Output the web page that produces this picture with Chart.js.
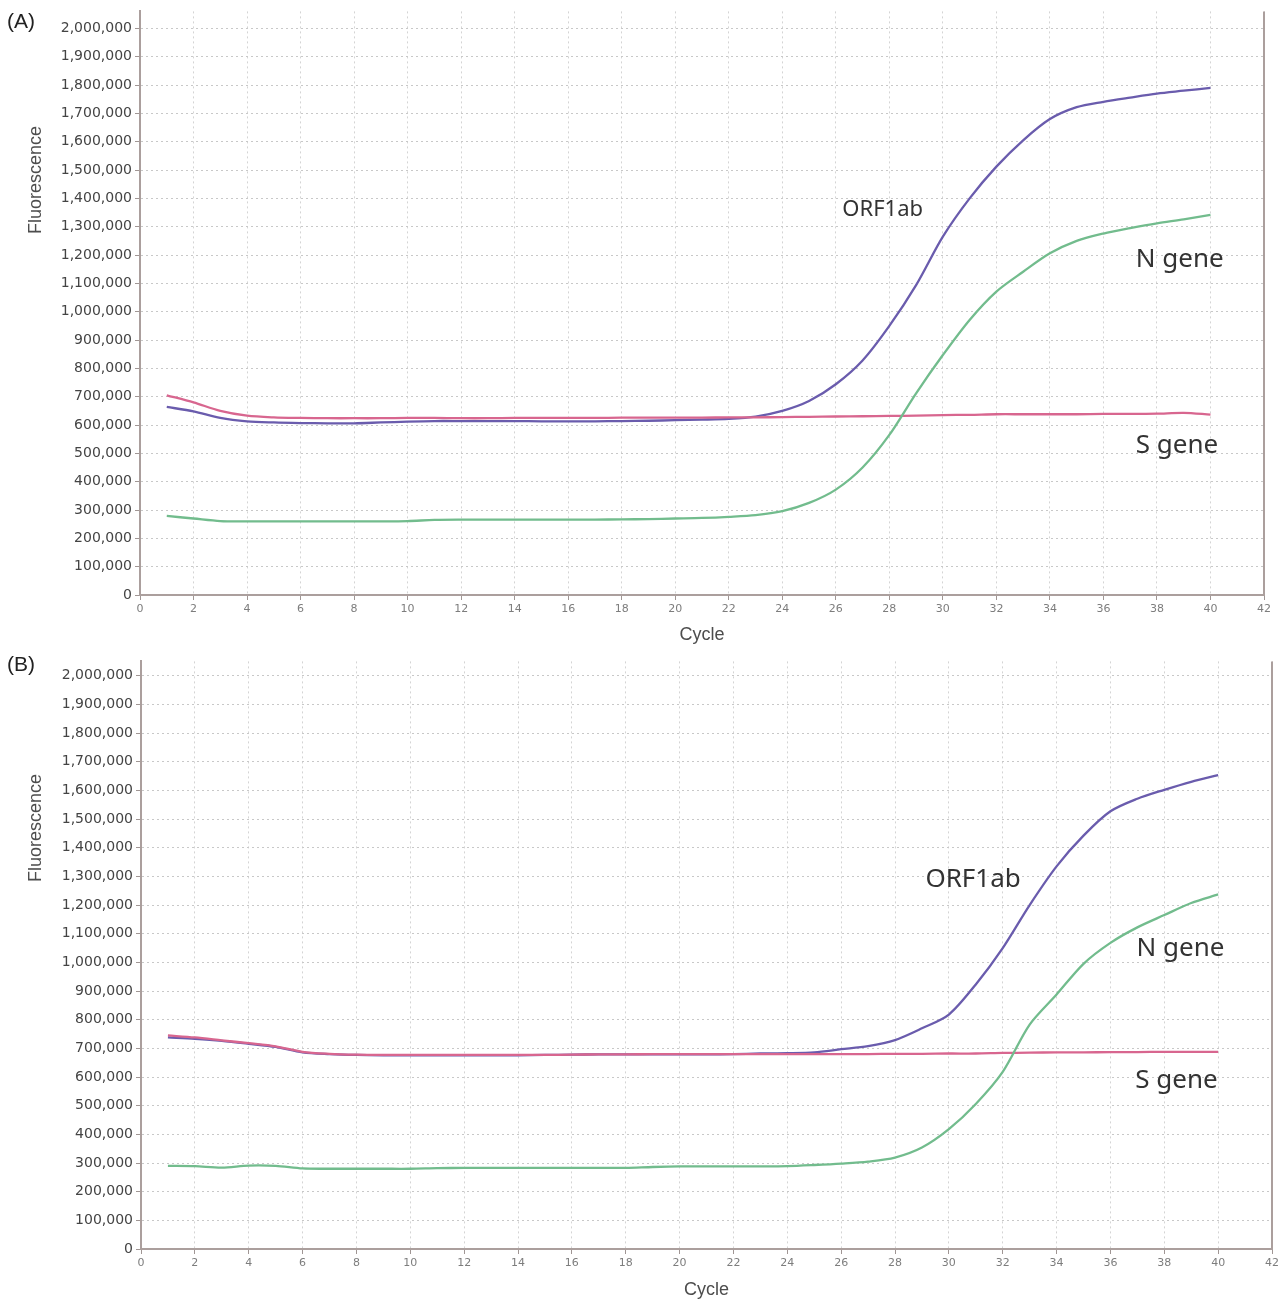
<!DOCTYPE html>
<html>
<head>
<meta charset="utf-8">
<title>Amplification curves</title>
<script src="https://cdn.jsdelivr.net/npm/chart.js@4.4.1/dist/chart.umd.min.js"></script>
<style>
  html, body { margin: 0; padding: 0; background: #fff; }
  canvas { display: block; position: absolute; left: 0; }
  #panelA { top: 0; }
  #panelB { top: 650px; }
</style>
</head>
<body>
<canvas id="panelA" width="1284" height="650"></canvas>
<canvas id="panelB" width="1284" height="653"></canvas>
<script>
// ── Data ──────────────────────────────────────────────────────────────────────

const CYCLES = [1, 2, 3, 4, 5, 6, 7, 8, 9, 10, 11, 12, 13, 14, 15, 16, 17, 18, 19, 20,
                21, 22, 23, 24, 25, 26, 27, 28, 29, 30, 31, 32, 33, 34, 35, 36, 37, 38, 39, 40];

const X_TICKS = [0, 2, 4, 6, 8, 10, 12, 14, 16, 18, 20, 22, 24, 26, 28, 30, 32, 34, 36, 38, 40, 42];
const Y_TICKS = [0, 100000, 200000, 300000, 400000, 500000, 600000, 700000, 800000, 900000, 1000000,
                 1100000, 1200000, 1300000, 1400000, 1500000, 1600000, 1700000, 1800000, 1900000, 2000000];

// panel (A)
const ORF1AB_A = [664000, 648000, 625000, 613000, 609000, 607000, 606000, 606000, 609000, 612000,
                  614000, 614000, 614000, 614000, 613000, 613000, 613000, 614000, 615000, 617000,
                  619000, 622000, 630000, 650000, 685000, 744000, 828000, 950000, 1094000, 1265000,
                  1400000, 1512000, 1605000, 1680000, 1722000, 1741000, 1756000, 1770000, 1780000, 1790000];
const NGENE_A = [279000, 270000, 261000, 260000, 260000, 260000, 260000, 260000, 260000, 261000,
                 265000, 266000, 266000, 266000, 266000, 266000, 266000, 267000, 268000, 270000,
                 272000, 276000, 282000, 296000, 325000, 372000, 450000, 565000, 712000, 847000,
                 971000, 1071000, 1141000, 1206000, 1250000, 1276000, 1295000, 1312000, 1326000, 1342000];
const SGENE_A = [705000, 680000, 650000, 633000, 627000, 625000, 624000, 624000, 624000, 625000,
                 625000, 624000, 624000, 625000, 625000, 625000, 625000, 626000, 626000, 626000,
                 626000, 627000, 627000, 628000, 629000, 630000, 631000, 632000, 633000, 635000,
                 636000, 638000, 638000, 638000, 638000, 639000, 639000, 640000, 643000, 637000];

// panel (B)
const ORF1AB_B = [738000, 733000, 726000, 716000, 705000, 686000, 680000, 677000, 676000, 676000,
                  676000, 676000, 676000, 676000, 677000, 678000, 679000, 679000, 679000, 679000,
                  679000, 680000, 682000, 683000, 686000, 697000, 708000, 729000, 770000, 818000,
                  923000, 1050000, 1200000, 1335000, 1442000, 1527000, 1571000, 1602000, 1630000, 1653000];
const NGENE_B = [290000, 289000, 284000, 291000, 290000, 281000, 280000, 280000, 280000, 280000,
                 282000, 283000, 283000, 283000, 283000, 283000, 283000, 283000, 286000, 288000,
                 288000, 288000, 288000, 289000, 293000, 298000, 305000, 319000, 354000, 418000,
                 506000, 618000, 783000, 888000, 995000, 1068000, 1122000, 1165000, 1207000, 1237000];
const SGENE_B = [745000, 738000, 728000, 718000, 707000, 688000, 681000, 678000, 677000, 677000,
                 677000, 677000, 677000, 677000, 677000, 678000, 679000, 679000, 680000, 680000,
                 680000, 680000, 680000, 680000, 680000, 680000, 680000, 681000, 681000, 682000,
                 682000, 684000, 685000, 686000, 686000, 687000, 687000, 688000, 688000, 688000];

// ── Styling ───────────────────────────────────────────────────────────────────

const COLORS = { orf: '#6a5cad', n: '#72bc8d', s: '#d8668f' };
const AXIS_COLOR = '#ab9f9d';
const LABEL_FONT = '"Noto Sans", "Open Sans", sans-serif';

// gene name placement, in cycle / fluorescence units
const GENE_LABELS_A = [
    { text: 'ORF1ab', x: 27.75, y: 1360000, size: 22 },
    { text: 'N gene', x: 38.85, y: 1185000, size: 26 },
    { text: 'S gene', x: 38.75, y: 527000, size: 26 }
];
const GENE_LABELS_B = [
    { text: 'ORF1ab', x: 30.9, y: 1290000, size: 26 },
    { text: 'N gene', x: 38.6, y: 1047000, size: 26 },
    { text: 'S gene', x: 38.45, y: 588000, size: 26 }
];

const toPoints = values => CYCLES.map((c, i) => ({ x: c, y: values[i] }));

const panelDecor = {
    id: 'panelDecor',
    afterDraw(chart, args, opts) {
        const { ctx, chartArea, scales } = chart;
        ctx.save();

        // right frame edge
        ctx.strokeStyle = AXIS_COLOR;
        ctx.lineWidth = 2;
        ctx.beginPath();
        ctx.moveTo(chartArea.right, chartArea.top);
        ctx.lineTo(chartArea.right, chartArea.bottom);
        ctx.stroke();

        // (A) / (B)
        ctx.fillStyle = '#222';
        ctx.font = '21px "Liberation Sans", Arial, sans-serif';
        ctx.textAlign = 'left';
        ctx.textBaseline = 'middle';
        ctx.fillText(opts.tag, 7, opts.tagY);

        // y title, sits high on the axis like the original
        ctx.save();
        ctx.translate(36, opts.titleY);
        ctx.rotate(-Math.PI / 2);
        ctx.textAlign = 'center';
        ctx.fillStyle = '#4d4d4d';
        ctx.font = '18px "Liberation Sans", Arial, sans-serif';
        ctx.fillText('Fluorescence', 0, 0);
        ctx.restore();

        // gene names
        ctx.fillStyle = '#333';
        ctx.textAlign = 'center';
        opts.labels.forEach(l => {
            ctx.font = `${l.size}px ${LABEL_FONT}`;
            ctx.fillText(l.text, scales.x.getPixelForValue(l.x), scales.y.getPixelForValue(l.y));
        });

        ctx.restore();
    }
};

function renderPanel(canvasId, cfg) {
    const ctx = document.getElementById(canvasId);
    return new Chart(ctx, {
        type: 'line',
        data: {
            datasets: [
                { label: 'N gene', data: toPoints(cfg.n), borderColor: COLORS.n },
                { label: 'S gene', data: toPoints(cfg.s), borderColor: COLORS.s },
                { label: 'ORF1ab', data: toPoints(cfg.orf), borderColor: COLORS.orf }
            ].map(d => ({ ...d, borderWidth: 2.3, pointRadius: 0, tension: 0.3, fill: false }))
        },
        options: {
            responsive: false,
            animation: false,
            events: [],
            layout: { padding: { left: 0, top: cfg.top, right: cfg.right, bottom: 0 } },
            plugins: {
                legend: { display: false },
                tooltip: { enabled: false },
                panelDecor: { tag: cfg.tag, tagY: cfg.tagY, titleY: cfg.titleY, labels: cfg.labels }
            },
            scales: {
                x: {
                    type: 'linear',
                    min: 0,
                    max: X_TICKS[X_TICKS.length - 1],
                    afterFit: s => { s.height = cfg.xHeight; },
                    afterBuildTicks: s => { s.ticks = X_TICKS.map(v => ({ value: v })); },
                    grid: { color: '#d4d4d4', tickColor: '#a09694', tickLength: 5 },
                    border: { color: AXIS_COLOR, width: 2, dash: [2, 3] },
                    ticks: {
                        autoSkip: false,
                        maxRotation: 0,
                        padding: 3,
                        color: '#7d7d7d',
                        font: { family: 'DejaVu Sans', size: 11 }
                    },
                    title: {
                        display: true,
                        text: 'Cycle',
                        color: '#4d4d4d',
                        font: { family: 'Liberation Sans', size: 18 },
                        padding: { top: 0, bottom: cfg.titlePad }
                    }
                },
                y: {
                    type: 'linear',
                    min: 0,
                    max: cfg.yMax,
                    afterFit: s => { s.width = cfg.left; },
                    afterBuildTicks: s => { s.ticks = Y_TICKS.map(v => ({ value: v })); },
                    grid: { color: '#c8c8c8', tickColor: '#a09694', tickLength: 5 },
                    border: { color: AXIS_COLOR, width: 2, dash: [2, 3] },
                    ticks: {
                        autoSkip: false,
                        padding: 3,
                        color: '#444',
                        font: { family: 'DejaVu Sans', size: 14 },
                        callback: v => v.toLocaleString('en-US')
                    }
                }
            }
        },
        plugins: [panelDecor]
    });
}

renderPanel('panelA', {
    orf: ORF1AB_A, n: NGENE_A, s: SGENE_A,
    tag: '(A)', tagY: 22, titleY: 180, labels: GENE_LABELS_A,
    left: 140, right: 20, top: 8, xHeight: 55, titlePad: 4, yMax: 2060000
});

renderPanel('panelB', {
    orf: ORF1AB_B, n: NGENE_B, s: SGENE_B,
    tag: '(B)', tagY: 15, titleY: 178, labels: GENE_LABELS_B,
    left: 141, right: 12, top: 10, xHeight: 54, titlePad: 2, yMax: 2050000
});
</script>
</body>
</html>
